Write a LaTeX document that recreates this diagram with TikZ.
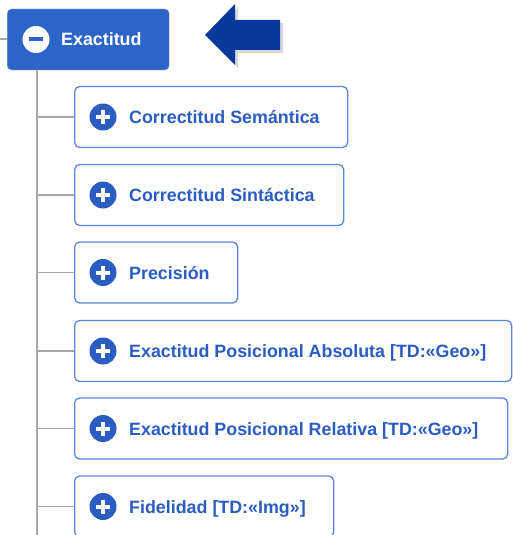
\documentclass[tikz,border=0pt]{standalone}
\usepackage{fontspec}
\setmainfont{Liberation Sans}
\usetikzlibrary{shadows}
\definecolor{headblue}{HTML}{2D64C8}
\definecolor{boxblue}{HTML}{5A87D8}
\definecolor{textblue}{HTML}{2B5CC2}
\definecolor{pointblue}{HTML}{0B389C}
\definecolor{treegray}{HTML}{A8A8A8}
\tikzstyle{branch}=[treegray, line width=1.4pt]
\tikzset{
    topbox/.style={draw=black!20, fill=headblue, rounded corners=4pt,
        minimum width=162pt, minimum height=61pt, anchor=west},
    subbox/.style={draw=boxblue, line width=1.3pt, rounded corners=5pt,
        fill=white, minimum height=61pt, anchor=west},
    itemtext/.style={anchor=base west, inner sep=0pt, text=textblue,
        font=\fontsize{17.85}{20}\selectfont\bfseries},
    plusicon/.style={circle, fill=textblue, minimum size=27pt, inner sep=0pt,
        path picture={
            \fill[white] ([xshift=-7pt,yshift=-2pt]path picture bounding box.center)
                rectangle ([xshift=7pt,yshift=2pt]path picture bounding box.center);
            \fill[white] ([xshift=-2pt,yshift=-7pt]path picture bounding box.center)
                rectangle ([xshift=2pt,yshift=7pt]path picture bounding box.center);
        }},
    minusicon/.style={circle, fill=white, minimum size=27pt, inner sep=0pt,
        path picture={
            \fill[headblue] ([xshift=-7pt,yshift=-2pt]path picture bounding box.center)
                rectangle ([xshift=7pt,yshift=2pt]path picture bounding box.center);
        }}
}

\begin{document}
\begin{tikzpicture}[x=1pt, y=-1pt]
    \useasboundingbox (0,0) rectangle (512,535);

    % root
    \coordinate (rootin) at (0,39);
    \node[topbox] (root) at (7,39.5) {};
    \node[minusicon] (rooticon) at (36,39.5) {};
    \node[itemtext, text=white] (roottext) at (61,46) {Exactitud};
    \coordinate (trunk) at (37,70);
    \coordinate (trunkend) at (37,535);

    % pointer arrow
    \fill[pointblue, drop shadow={shadow xshift=3pt, shadow yshift=-3pt, opacity=0.3}]
        (205,35) -- (235,4) -- (235,20) -- (280,20) -- (280,50) -- (235,50) -- (235,65) -- cycle;

    % children
    \node[subbox, minimum width=273pt] (b1) at (74,117) {};
    \node[plusicon] (p1) at (103,117) {};
    \node[itemtext] (t1) at (129,123.5) {Correctitud Semántica};

    \node[subbox, minimum width=269pt] (b2) at (74,195) {};
    \node[plusicon] (p2) at (103,195) {};
    \node[itemtext] (t2) at (129,201.5) {Correctitud Sintáctica};

    \node[subbox, minimum width=163pt] (b3) at (74,272.5) {};
    \node[plusicon] (p3) at (103,272.5) {};
    \node[itemtext] (t3) at (129,279) {Precisión};

    \node[subbox, minimum width=437pt] (b4) at (74,351) {};
    \node[plusicon] (p4) at (103,351) {};
    \node[itemtext] (t4) at (129,357.5) {Exactitud Posicional Absoluta [TD:«Geo»]};

    \node[subbox, minimum width=433pt] (b5) at (74,428.5) {};
    \node[plusicon] (p5) at (103,428.5) {};
    \node[itemtext] (t5) at (129,435) {Exactitud Posicional Relativa [TD:«Geo»]};

    \node[subbox, minimum width=259pt] (b6) at (74,506.5) {};
    \node[plusicon] (p6) at (103,506.5) {};
    \node[itemtext] (t6) at (129,513) {Fidelidad [TD:«Img»]};

    % tree lines
    \draw[branch] (rootin) -- (root.west |- rootin);
    \draw[branch] (trunk) -- (trunkend);
    \draw[branch] (trunk |- b1.west) -- (b1.west);
    \draw[branch] (trunk |- b2.west) -- (b2.west);
    \draw[branch] (trunk |- b3.west) -- (b3.west);
    \draw[branch] (trunk |- b4.west) -- (b4.west);
    \draw[branch] (trunk |- b5.west) -- (b5.west);
    \draw[branch] (trunk |- b6.west) -- (b6.west);
\end{tikzpicture}
\end{document}
